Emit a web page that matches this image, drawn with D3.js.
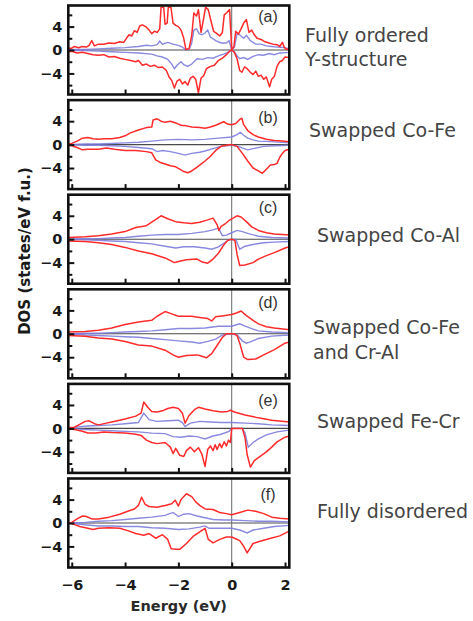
<!DOCTYPE html>
<html>
<head>
<meta charset="utf-8">
<script src="https://cdn.jsdelivr.net/npm/d3@7"></script>
<style>
  body { margin: 0; background: #fff; }
</style>
</head>
<body>
<svg id="chart"></svg>
<script>
// energies in eV, DOS in states/eV f.u. ; each series is [E, DOS] pairs
const panelTags = ['(a)', '(b)', '(c)', '(d)', '(e)', '(f)'];
const conditionLabels = [
    ['Fully ordered', 'Y-structure'],
    ['Swapped Co-Fe'],
    ['Swapped Co-Al'],
    ['Swapped Co-Fe', 'and Cr-Al'],
    ['Swapped Fe-Cr'],
    ['Fully disordered']
];
const xTicks = [-6, -4, -2, 0, 2];
const yMajorTicks = [-4, 0, 4];
const yMinorTicks = [-6, -2, 2, 6];

const redUpA = [[-6.13,0.3],[-6.0,0.3],[-5.9,0.6],[-5.75,0.4],[-5.6,0.6],[-5.45,0.5],[-5.35,0.8],[-5.25,1.6],[-5.15,0.7],[-5.0,1.0],[-4.8,1.0],[-4.6,1.2],[-4.4,1.1],[-4.2,1.4],[-4.05,1.3],[-3.95,2.0],[-3.85,2.6],[-3.75,2.4],[-3.65,3.3],[-3.55,3.0],[-3.45,4.1],[-3.35,4.3],[-3.2,3.9],[-3.1,3.4],[-3.0,2.8],[-2.9,3.2],[-2.8,3.0],[-2.7,3.6],[-2.65,7.3],[-2.55,7.3],[-2.5,4.4],[-2.42,4.6],[-2.38,7.3],[-2.28,7.3],[-2.2,4.6],[-2.1,4.2],[-2.0,4.0],[-1.9,3.4],[-1.8,2.0],[-1.72,0.1],[-1.6,0.2],[-1.5,2.5],[-1.42,6.3],[-1.32,5.8],[-1.25,6.9],[-1.15,3.0],[-1.05,5.5],[-0.98,7.3],[-0.88,6.9],[-0.78,5.0],[-0.68,3.2],[-0.55,2.8],[-0.45,2.4],[-0.35,3.0],[-0.28,6.0],[-0.18,6.4],[-0.08,6.9],[0.0,0.1],[0.08,0.5],[0.15,3.2],[0.25,2.7],[0.35,3.6],[0.45,4.6],[0.55,5.2],[0.65,3.0],[0.75,3.4],[0.85,2.6],[0.95,2.0],[1.1,1.8],[1.25,1.4],[1.4,1.2],[1.55,1.0],[1.7,0.9],[1.8,0.6],[1.9,1.3],[1.98,0.4],[2.05,0.1],[2.16,0.2]];
const redDnA = [[-6.13,-0.3],[-6.0,-0.2],[-5.8,-0.5],[-5.6,-0.4],[-5.4,-0.6],[-5.2,-0.8],[-5.0,-0.9],[-4.8,-0.8],[-4.6,-1.2],[-4.4,-1.1],[-4.2,-1.4],[-4.0,-1.6],[-3.8,-1.8],[-3.6,-2.0],[-3.5,-1.8],[-3.35,-2.6],[-3.2,-2.4],[-3.05,-2.8],[-2.9,-2.6],[-2.75,-3.0],[-2.6,-2.9],[-2.45,-3.5],[-2.35,-4.6],[-2.25,-5.2],[-2.15,-6.5],[-2.05,-5.3],[-1.95,-5.0],[-1.85,-5.8],[-1.75,-5.4],[-1.65,-6.0],[-1.55,-4.8],[-1.45,-4.5],[-1.35,-5.0],[-1.25,-7.3],[-1.15,-4.8],[-1.05,-4.4],[-0.95,-3.2],[-0.8,-2.8],[-0.65,-2.6],[-0.5,-1.8],[-0.35,-1.4],[-0.2,-0.8],[-0.08,-0.2],[0.0,0.0],[0.1,-0.4],[0.2,-1.5],[0.3,-3.5],[0.38,-3.8],[0.48,-2.9],[0.58,-3.2],[0.7,-3.8],[0.8,-4.2],[0.9,-3.6],[1.0,-4.5],[1.1,-4.3],[1.2,-5.0],[1.3,-4.6],[1.42,-6.3],[1.5,-5.0],[1.6,-4.5],[1.7,-2.8],[1.8,-2.0],[1.9,-1.8],[2.0,-1.2],[2.16,-1.3]];
const blueUpA = [[-6.13,0.1],[-5.5,0.1],[-5.0,0.2],[-4.5,0.3],[-4.0,0.4],[-3.5,0.6],[-3.2,0.8],[-3.0,0.7],[-2.8,0.9],[-2.7,1.5],[-2.6,1.0],[-2.4,1.3],[-2.2,1.0],[-2.0,0.8],[-1.85,0.5],[-1.72,0.0],[-1.6,0.1],[-1.5,1.2],[-1.42,3.4],[-1.32,3.6],[-1.22,2.8],[-1.12,2.6],[-1.0,2.9],[-0.9,3.4],[-0.8,2.2],[-0.6,1.6],[-0.4,1.2],[-0.2,1.2],[-0.1,1.6],[0.0,0.0],[0.1,0.5],[0.2,2.8],[0.3,2.6],[0.45,2.0],[0.55,2.5],[0.7,1.6],[0.9,1.0],[1.1,1.0],[1.3,0.7],[1.5,0.6],[1.7,0.5],[2.0,0.4],[2.16,0.2]];
const blueDnA = [[-6.13,-0.1],[-5.5,-0.1],[-5.0,-0.2],[-4.5,-0.3],[-4.0,-0.4],[-3.5,-0.5],[-3.0,-0.7],[-2.8,-1.0],[-2.6,-1.2],[-2.4,-1.6],[-2.25,-2.4],[-2.15,-3.2],[-2.05,-2.6],[-1.9,-2.0],[-1.8,-2.5],[-1.65,-2.8],[-1.5,-2.4],[-1.3,-1.5],[-1.1,-1.6],[-0.9,-1.3],[-0.7,-1.4],[-0.5,-1.0],[-0.3,-0.7],[-0.1,-0.3],[0.0,0.0],[0.1,-0.3],[0.2,-1.0],[0.3,-1.5],[0.45,-1.3],[0.6,-1.6],[0.8,-1.1],[1.0,-0.8],[1.2,-0.9],[1.4,-0.6],[1.6,-0.8],[1.8,-0.5],[2.16,-0.4]];

const redUpB = [[-6.13,0.1],[-6.0,0.2],[-5.8,0.6],[-5.6,1.1],[-5.4,1.2],[-5.2,1.0],[-5.0,0.9],[-4.8,1.0],[-4.5,1.0],[-4.2,1.2],[-4.0,1.5],[-3.8,2.0],[-3.5,2.5],[-3.2,2.9],[-3.0,3.0],[-2.95,4.2],[-2.8,4.4],[-2.65,4.0],[-2.5,3.8],[-2.3,4.0],[-2.1,3.7],[-1.9,3.3],[-1.7,3.2],[-1.5,3.0],[-1.2,2.9],[-1.0,2.8],[-0.8,3.0],[-0.6,3.3],[-0.45,3.6],[-0.3,3.9],[-0.15,3.5],[0.0,3.4],[0.15,3.6],[0.3,4.3],[0.38,4.5],[0.45,3.4],[0.6,2.4],[0.8,1.7],[1.0,1.3],[1.3,0.9],[1.6,0.7],[1.9,0.6],[2.16,0.5]];
const redDnB = [[-6.13,-0.1],[-6.0,-0.2],[-5.8,-0.5],[-5.6,-0.9],[-5.4,-0.8],[-5.2,-0.8],[-5.0,-0.8],[-4.7,-0.6],[-4.4,-0.8],[-4.0,-1.0],[-3.6,-1.0],[-3.2,-1.2],[-3.0,-1.4],[-2.85,-2.6],[-2.7,-3.0],[-2.5,-3.3],[-2.3,-3.6],[-2.1,-3.8],[-1.95,-4.2],[-1.8,-4.6],[-1.65,-4.8],[-1.5,-4.5],[-1.35,-4.0],[-1.2,-3.5],[-1.0,-2.8],[-0.8,-2.0],[-0.6,-1.0],[-0.4,-0.3],[-0.2,-0.1],[0.0,0.0],[0.2,-0.3],[0.4,-1.5],[0.6,-2.8],[0.8,-4.0],[1.0,-4.5],[1.15,-4.9],[1.3,-4.2],[1.45,-3.5],[1.6,-3.4],[1.7,-3.2],[1.8,-2.2],[1.9,-1.5],[2.0,-1.0],[2.16,-0.8]];
const blueUpB = [[-6.13,0],[-5.5,0.1],[-5.0,0.1],[-4.5,0.2],[-4.0,0.3],[-3.5,0.4],[-3.0,0.6],[-2.5,0.8],[-2.0,0.9],[-1.5,0.8],[-1.0,0.9],[-0.5,1.1],[0.0,1.3],[0.2,1.7],[0.32,2.1],[0.45,1.6],[0.6,1.1],[0.8,0.8],[1.0,0.6],[1.5,0.5],[2.16,0.3]];
const blueDnB = [[-6.13,0],[-5.5,-0.1],[-5.0,-0.1],[-4.5,-0.2],[-4.0,-0.3],[-3.5,-0.5],[-3.0,-0.7],[-2.8,-1.2],[-2.6,-1.0],[-2.3,-1.2],[-2.0,-1.5],[-1.75,-1.8],[-1.5,-1.5],[-1.2,-1.3],[-1.0,-1.1],[-0.7,-0.7],[-0.4,-0.3],[0.0,-0.1],[0.3,-0.4],[0.6,-0.9],[0.9,-0.6],[1.2,-0.3],[1.6,-0.2],[2.16,-0.1]];

const redUpC = [[-6.13,0.3],[-5.5,0.4],[-5.0,0.6],[-4.5,0.9],[-4.0,1.3],[-3.6,2.0],[-3.2,2.3],[-2.9,3.2],[-2.65,4.0],[-2.4,3.5],[-2.1,3.0],[-1.8,2.8],[-1.5,2.7],[-1.2,2.9],[-0.9,3.3],[-0.7,3.6],[-0.55,2.5],[-0.48,1.5],[-0.4,2.2],[-0.25,2.6],[-0.1,3.2],[0.05,3.6],[0.2,4.0],[0.35,3.8],[0.55,3.0],[0.75,2.1],[1.0,1.5],[1.3,1.1],[1.6,0.9],[2.16,0.7]];
const redDnC = [[-6.13,-0.3],[-5.5,-0.4],[-5.0,-0.6],[-4.5,-0.9],[-4.0,-1.4],[-3.5,-2.0],[-3.0,-2.5],[-2.5,-3.2],[-2.15,-4.0],[-2.0,-3.8],[-1.7,-3.5],[-1.3,-3.4],[-1.1,-3.9],[-0.9,-4.1],[-0.7,-3.4],[-0.5,-2.4],[-0.3,-1.0],[-0.15,-0.2],[0.0,0.0],[0.12,-0.2],[0.2,-2.6],[0.3,-4.5],[0.5,-4.4],[0.8,-4.0],[1.0,-3.4],[1.3,-2.8],[1.6,-2.3],[2.0,-1.5],[2.16,-1.3]];
const blueUpC = [[-6.13,0],[-5.5,0.1],[-5.0,0.1],[-4.5,0.2],[-4.0,0.3],[-3.5,0.5],[-3.0,0.7],[-2.5,0.8],[-2.0,0.8],[-1.5,1.0],[-1.0,1.3],[-0.7,1.6],[-0.5,1.9],[-0.35,0.6],[-0.2,0.7],[0.0,1.1],[0.2,1.5],[0.4,1.3],[0.6,1.0],[1.0,0.5],[1.5,0.3],[2.16,0.2]];
const blueDnC = [[-6.13,0],[-5.5,-0.1],[-5.0,-0.2],[-4.5,-0.3],[-4.0,-0.4],[-3.5,-0.6],[-3.0,-0.8],[-2.5,-1.2],[-2.1,-1.5],[-1.8,-1.3],[-1.4,-1.3],[-1.0,-1.5],[-0.75,-1.7],[-0.5,-1.3],[-0.3,-0.7],[-0.1,-0.1],[0.15,0.0],[0.3,-1.7],[0.5,-1.2],[0.8,-0.9],[1.2,-0.6],[1.6,-0.5],[2.16,-0.4]];

const redUpD = [[-6.13,0.3],[-5.5,0.4],[-5.0,0.6],[-4.5,1.0],[-4.0,1.6],[-3.5,2.0],[-3.0,2.3],[-2.8,3.0],[-2.5,3.8],[-2.25,3.4],[-2.0,3.0],[-1.5,3.0],[-1.2,2.8],[-0.9,2.6],[-0.75,2.2],[-0.6,2.9],[-0.3,3.1],[0.0,3.3],[0.2,3.6],[0.35,3.9],[0.55,3.1],[0.8,2.3],[1.0,1.7],[1.3,1.2],[1.6,1.0],[2.16,0.7]];
const redDnD = [[-6.13,-0.3],[-5.5,-0.4],[-5.0,-0.7],[-4.5,-0.9],[-4.0,-1.3],[-3.5,-1.9],[-3.0,-2.1],[-2.5,-2.8],[-2.2,-3.6],[-2.0,-4.0],[-1.7,-3.7],[-1.3,-3.6],[-1.15,-3.8],[-0.95,-4.1],[-0.75,-3.4],[-0.55,-2.0],[-0.35,-0.6],[-0.2,0.0],[0.1,0.0],[0.2,-0.3],[0.3,-1.6],[0.45,-4.0],[0.6,-4.4],[0.9,-4.3],[1.2,-3.6],[1.6,-2.7],[2.0,-1.6],[2.16,-1.4]];
const blueUpD = [[-6.13,0],[-5.5,0.1],[-5.0,0.1],[-4.5,0.2],[-4.0,0.3],[-3.5,0.4],[-3.0,0.5],[-2.5,0.7],[-2.0,0.9],[-1.5,0.9],[-1.0,1.0],[-0.5,1.3],[0.0,1.3],[0.3,1.7],[0.5,1.3],[0.8,0.8],[1.0,0.5],[1.5,0.3],[2.16,0.2]];
const blueDnD = [[-6.13,0],[-5.5,-0.2],[-5.0,-0.3],[-4.5,-0.4],[-4.0,-0.5],[-3.5,-0.6],[-3.0,-0.8],[-2.5,-1.0],[-2.0,-1.2],[-1.5,-1.4],[-1.2,-1.6],[-0.9,-1.3],[-0.6,-0.9],[-0.35,-0.2],[0.0,0.0],[0.2,-0.2],[0.4,-1.2],[0.55,-1.6],[0.75,-1.3],[1.0,-0.8],[1.5,-0.4],[2.16,-0.2]];

const redUpE = [[-6.13,0.1],[-5.9,0.2],[-5.7,0.7],[-5.5,1.2],[-5.35,1.3],[-5.15,0.8],[-5.0,0.6],[-4.7,0.9],[-4.5,1.1],[-4.0,1.6],[-3.6,2.1],[-3.4,2.6],[-3.3,4.5],[-3.15,3.6],[-3.0,2.9],[-2.8,2.8],[-2.6,3.0],[-2.4,3.4],[-2.2,3.6],[-2.0,3.4],[-1.85,2.6],[-1.75,0.9],[-1.6,2.2],[-1.4,3.2],[-1.25,3.6],[-1.0,3.3],[-0.7,3.0],[-0.4,2.8],[-0.15,2.9],[-0.05,3.1],[0.1,2.8],[0.5,2.3],[1.0,1.8],[1.5,1.4],[2.16,1.1]];
const redDnE = [[-6.13,-0.1],[-5.9,-0.2],[-5.6,-0.5],[-5.4,-0.8],[-5.1,-0.8],[-4.8,-0.6],[-4.5,-0.7],[-4.0,-0.8],[-3.6,-1.0],[-3.4,-1.2],[-3.2,-2.0],[-3.0,-2.4],[-2.8,-2.6],[-2.5,-2.4],[-2.3,-3.2],[-2.2,-4.3],[-2.1,-3.4],[-1.95,-4.6],[-1.8,-4.8],[-1.7,-3.8],[-1.55,-3.2],[-1.4,-4.0],[-1.25,-3.3],[-1.12,-4.4],[-1.0,-6.5],[-0.9,-3.6],[-0.8,-3.0],[-0.7,-3.8],[-0.62,-2.8],[-0.55,-3.6],[-0.45,-2.6],[-0.38,-3.3],[-0.28,-2.3],[-0.2,-3.0],[-0.12,-2.0],[-0.05,-2.4],[0.0,0.0],[0.4,0.0],[0.5,-1.6],[0.58,-4.5],[0.7,-6.6],[0.85,-5.5],[1.0,-5.0],[1.3,-4.0],[1.5,-3.2],[1.7,-2.3],[2.0,-1.5],[2.16,-1.3]];
const blueUpE = [[-6.13,0],[-5.7,0.3],[-5.4,0.4],[-5.0,0.5],[-4.5,0.6],[-4.0,0.8],[-3.5,1.0],[-3.3,2.6],[-3.1,1.5],[-2.8,1.2],[-2.4,1.3],[-2.0,1.4],[-1.85,1.0],[-1.75,0.3],[-1.55,0.9],[-1.2,1.2],[-0.8,1.1],[-0.4,1.0],[0.0,1.0],[0.5,0.9],[1.0,0.8],[1.5,0.6],[2.16,0.5]];
const blueDnE = [[-6.13,0],[-5.5,-0.2],[-5.0,-0.3],[-4.5,-0.4],[-4.0,-0.5],[-3.5,-0.6],[-3.0,-0.8],[-2.5,-0.9],[-2.2,-1.4],[-1.9,-1.5],[-1.6,-1.3],[-1.3,-1.4],[-1.0,-1.8],[-0.7,-1.3],[-0.4,-1.0],[-0.1,-0.5],[0.0,0.0],[0.4,0.0],[0.5,-0.8],[0.62,-3.2],[0.8,-2.4],[1.0,-1.8],[1.3,-1.1],[1.7,-0.6],[2.16,-0.3]];

const redUpF = [[-6.13,0.0],[-6.0,0.1],[-5.8,0.7],[-5.6,1.2],[-5.45,1.1],[-5.25,0.7],[-5.0,0.7],[-4.6,1.0],[-4.2,1.5],[-3.9,2.0],[-3.65,2.4],[-3.5,3.0],[-3.38,4.4],[-3.25,3.2],[-3.1,2.8],[-2.8,2.7],[-2.5,3.0],[-2.25,3.3],[-2.12,3.9],[-2.0,2.9],[-1.9,4.0],[-1.7,5.0],[-1.5,4.5],[-1.35,3.6],[-1.2,3.0],[-1.0,2.4],[-0.7,2.3],[-0.45,1.8],[-0.2,1.6],[0.0,1.4],[0.3,1.8],[0.6,2.2],[0.9,2.0],[1.2,1.6],[1.5,1.0],[1.8,0.8],[2.16,0.7]];
const redDnF = [[-6.13,0.0],[-6.0,-0.1],[-5.7,-0.6],[-5.4,-0.9],[-5.2,-1.1],[-5.0,-0.9],[-4.6,-0.8],[-4.2,-0.9],[-3.9,-1.3],[-3.6,-1.8],[-3.3,-2.1],[-3.1,-1.8],[-2.85,-2.6],[-2.6,-2.0],[-2.4,-2.8],[-2.27,-4.4],[-2.1,-4.5],[-1.95,-4.5],[-1.7,-3.5],[-1.45,-2.3],[-1.2,-1.5],[-1.0,-0.9],[-0.88,-2.8],[-0.7,-3.4],[-0.45,-2.8],[-0.2,-2.4],[0.0,-2.4],[0.3,-3.0],[0.45,-4.0],[0.58,-5.1],[0.8,-3.5],[1.0,-3.2],[1.4,-2.7],[1.8,-2.2],[2.16,-1.4]];
const blueUpF = [[-6.13,0],[-5.5,0.1],[-5.0,0.3],[-4.5,0.4],[-4.0,0.6],[-3.5,0.8],[-3.0,1.0],[-2.5,1.3],[-2.2,1.8],[-2.0,1.1],[-1.8,1.5],[-1.6,1.6],[-1.3,1.2],[-1.0,0.9],[-0.7,0.6],[-0.3,0.5],[0.0,0.5],[0.5,0.4],[1.0,0.3],[1.5,0.3],[2.16,0.2]];
const blueDnF = [[-6.13,0],[-5.5,-0.3],[-5.0,-0.5],[-4.5,-0.5],[-4.0,-0.6],[-3.5,-0.6],[-3.0,-0.8],[-2.5,-0.9],[-2.0,-1.1],[-1.6,-1.0],[-1.2,-0.7],[-1.0,-0.5],[-0.85,-0.9],[-0.5,-0.9],[0.0,-0.9],[0.3,-1.2],[0.58,-1.7],[0.8,-1.2],[1.2,-0.9],[1.6,-0.6],[2.16,-0.4]];

const panels = [
    { blue: [blueUpA, blueDnA], red: [redUpA, redDnA] },
    { blue: [blueUpB, blueDnB], red: [redUpB, redDnB] },
    { blue: [blueUpC, blueDnC], red: [redUpC, redDnC] },
    { blue: [blueUpD, blueDnD], red: [redUpD, redDnD] },
    { blue: [blueUpE, blueDnE], red: [redUpE, redDnE] },
    { blue: [blueUpF, blueDnF], red: [redUpF, redDnF] }
];

const width = 473;
const height = 621;
const left = 68.3;
const right = 289.3;
const firstTop = 5.5;
const panelStep = 94.6;
const panelH = 89;
const tagDy = [16, 23, 18, 19, 22, 21];
const labelPos = [[305, 41.7, 24], [309, 136.7, 24], [317, 242, 24], [313, 334, 24.5], [317, 428, 24], [317, 518, 24]];

const boldFont = '"DejaVu Sans", sans-serif';

const svg = d3.select('#chart')
    .attr('width', width)
    .attr('height', height)
    .style('background-color', 'white');

const xScale = d3.scaleLinear()
    .domain([-6.13, 2.16])
    .range([left, right]);

const line = d3.line();

panels.forEach((p, i) => {
    const top = firstTop + panelStep * i;
    const yScale = d3.scaleLinear()
        .domain([-7.6, 7.6])
        .range([top + panelH, top]);
    line.x(d => xScale(d[0])).y(d => yScale(d[1]));

    const g = svg.append('g').attr('class', 'panel');

    g.append('clipPath')
        .attr('id', `clip${i}`)
        .append('rect')
        .attr('x', left)
        .attr('y', top)
        .attr('width', right - left)
        .attr('height', panelH);

    const plot = g.append('g').attr('clip-path', `url(#clip${i})`);

    // zero lines
    plot.append('line')
        .attr('x1', left).attr('x2', right)
        .attr('y1', yScale(0)).attr('y2', yScale(0))
        .attr('stroke', '#4a4a4a')
        .attr('stroke-width', 1.1);
    plot.append('line')
        .attr('x1', xScale(0)).attr('x2', xScale(0))
        .attr('y1', top).attr('y2', top + panelH)
        .attr('stroke', '#666')
        .attr('stroke-width', 1);

    plot.selectAll('path.blue')
        .data(p.blue)
        .enter()
        .append('path')
        .attr('class', 'blue')
        .attr('d', line)
        .attr('fill', 'none')
        .attr('stroke', '#7c7cdc')
        .attr('stroke-width', 1.4)
        .attr('stroke-opacity', 0.9);

    plot.selectAll('path.red')
        .data(p.red)
        .enter()
        .append('path')
        .attr('class', 'red')
        .attr('d', line)
        .attr('fill', 'none')
        .attr('stroke', '#ff2b2b')
        .attr('stroke-width', 1.5)
        .attr('stroke-linejoin', 'round');

    // left axis, ticks pointing in
    const yMajor = d3.axisLeft(yScale).tickValues(yMajorTicks).tickSize(-6).tickPadding(6);
    const yMinor = d3.axisLeft(yScale).tickValues(yMinorTicks).tickSize(-4).tickFormat('');
    const xAxis = d3.axisBottom(xScale).tickValues(xTicks).tickSize(-5).tickPadding(12.5)
        .tickFormat(i === panels.length - 1 ? d3.format('d') : '');

    [yMajor, yMinor].forEach(ax => {
        g.append('g')
            .attr('transform', `translate(${left}, 0)`)
            .call(ax)
            .call(s => s.select('.domain').remove())
            .call(s => s.selectAll('line').attr('stroke', '#111').attr('stroke-width', 2))
            .call(s => s.selectAll('text')
                .attr('fill', '#1a1a1a')
                .style('font-family', boldFont)
                .style('font-weight', 'bold')
                .style('font-size', '14.5px'));
    });

    g.append('g')
        .attr('transform', `translate(0, ${top + panelH})`)
        .call(xAxis)
        .call(s => s.select('.domain').remove())
        .call(s => s.selectAll('line').attr('stroke', '#111').attr('stroke-width', 2))
        .call(s => s.selectAll('text')
            .attr('fill', '#1a1a1a')
            .style('font-family', boldFont)
            .style('font-weight', 'bold')
            .style('font-size', '14.5px'));

    g.append('rect')
        .attr('x', left)
        .attr('y', top)
        .attr('width', right - left)
        .attr('height', panelH)
        .attr('fill', 'none')
        .attr('stroke', '#111')
        .attr('stroke-width', 2.6);

    g.append('text')
        .attr('x', 268)
        .attr('y', top + tagDy[i])
        .attr('text-anchor', 'middle')
        .attr('fill', '#333')
        .style('font-family', '"Liberation Sans", Arial, sans-serif')
        .style('font-size', '16px')
        .text(panelTags[i]);

    const [lx, ly, lh] = labelPos[i];
    svg.append('text')
        .attr('x', lx)
        .attr('y', ly)
        .attr('fill', '#444')
        .style('font-family', '"DejaVu Sans", sans-serif')
        .style('font-size', '19px')
        .selectAll('tspan')
        .data(conditionLabels[i])
        .enter()
        .append('tspan')
        .attr('x', lx)
        .attr('y', (d, k) => ly + k * lh)
        .text(d => d);
});

svg.append('text')
    .attr('x', (left + right) / 2)
    .attr('y', 611)
    .attr('text-anchor', 'middle')
    .attr('fill', '#2a2a2a')
    .style('font-family', boldFont)
    .style('font-weight', 'bold')
    .style('font-size', '14.5px')
    .text('Energy (eV)');

svg.append('text')
    .attr('transform', 'translate(29.5, 251) rotate(-90)')
    .attr('text-anchor', 'middle')
    .attr('fill', '#1a1a1a')
    .style('font-family', boldFont)
    .style('font-weight', 'bold')
    .style('font-size', '15px')
    .text('DOS (states/eV f.u.)');
</script>
</body>
</html>
